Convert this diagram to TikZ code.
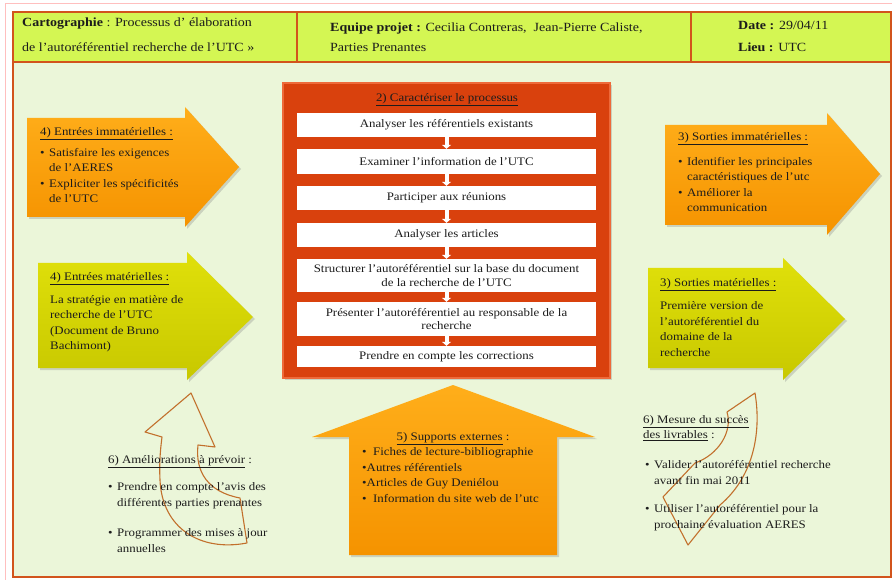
\documentclass[tikz,border=0pt]{standalone}
\usepackage{fontspec}
\setmainfont{Liberation Serif}[FakeStretch=1.12]
\usetikzlibrary{shadows, arrows.meta}
\definecolor{bodybg}{HTML}{EBF6D9}
\definecolor{headbg}{HTML}{D4F653}
\definecolor{framered}{HTML}{D2541C}
\definecolor{procred}{HTML}{D9410D}
\definecolor{procedge}{HTML}{EE6A3A}
\definecolor{orangetop}{HTML}{FFAE1A}
\definecolor{orangebot}{HTML}{F59300}
\definecolor{yellowtop}{HTML}{E0E00A}
\definecolor{yellowbot}{HTML}{C8C800}
\definecolor{curvebrown}{HTML}{C2702C}
\definecolor{inktext}{HTML}{1C1C1C}
\newcommand{\blt}{\makebox[9pt][l]{\textbullet}}
\newcommand{\bodyfont}{\fontsize{11.5}{15.5}\selectfont}
\tikzstyle{orangearrow} = [top color=orangetop, bottom color=orangebot, drop shadow={shadow xshift=2pt, shadow yshift=-2pt, opacity=0.3}]
\tikzstyle{yellowarrow} = [top color=yellowtop, bottom color=yellowbot, drop shadow={shadow xshift=2pt, shadow yshift=-2pt, opacity=0.3}]
\tikzstyle{curvearrow} = [draw=curvebrown, line width=1.1pt, line join=round]
\tikzstyle{headtext} = [anchor=base west, inner sep=0pt, text=inktext]
\tikzstyle{bodytext} = [anchor=base west, inner sep=0pt, text=inktext, font=\bodyfont]
\tikzstyle{stepbox} = [rectangle, fill=white, minimum width=299pt, inner sep=1pt, text centered, align=center, text=inktext, font={\fontsize{11.5}{13.5}\selectfont}]
\tikzstyle{stepflow} = [white, line width=4pt, -{Triangle[width=9pt,length=4pt]}]

\begin{document}
\begin{tikzpicture}[x=1pt, y=-1pt]
            \useasboundingbox (0,0) rectangle (892,580);
            % frame and header
            \draw [red!25, line width=0.8pt] (5,580) |- (892,3);
            \draw [framered, line width=1.2pt, fill=bodybg] (13,12) rectangle (891,577);
            \draw [framered, line width=1.2pt, fill=headbg] (13,12) rectangle (891,62);
            \draw [framered, line width=1.2pt] (297,12) -- (297,62);
            \draw [framered, line width=1.2pt] (691,12) -- (691,62);
            \node [headtext, font={\fontsize{12.5}{25}\selectfont}] at (22,26.5) (maptitle) {\begin{tabular}[t]{@{}l@{}}\textbf{Cartographie} : Processus d’ élaboration\\ de l’autoréférentiel recherche de l’UTC »\end{tabular}};
            \node [headtext, font={\fontsize{12.5}{20}\selectfont}] at (330,32) (team) {\begin{tabular}[t]{@{}l@{}}\textbf{Equipe projet :} Cecilia Contreras,\ \ Jean-Pierre Caliste,\\ Parties Prenantes\end{tabular}};
            \node [headtext, font={\fontsize{12.5}{22}\selectfont}] at (738,30) (dateplace) {\begin{tabular}[t]{@{}l@{}}\textbf{Date :} 29/04/11\\ \textbf{Lieu :} UTC\end{tabular}};

            % input and output arrows
            \path [orangearrow] (27,118) -- (185,118) -- (185,107) -- (239,167) -- (185,227) -- (185,217) -- (27,217) -- cycle;
            \path [yellowarrow] (38,263) -- (187,263) -- (187,252) -- (253,317) -- (187,380) -- (187,368) -- (38,368) -- cycle;
            \path [orangearrow] (665,125) -- (827,125) -- (827,113) -- (880,174) -- (827,235) -- (827,225) -- (665,225) -- cycle;
            \path [yellowarrow] (648,268) -- (783,268) -- (783,258) -- (845,319) -- (783,380) -- (783,368) -- (648,368) -- cycle;
            \path [orangearrow] (349,555) -- (349,437) -- (312,437) -- (453,385) -- (595,437) -- (557,437) -- (557,555) -- cycle;

            \node [bodytext] at (40,135.5) (inimmat) {\underline{4) Entrées immatérielles :}};
            \node [bodytext] at (40,156.5) (inimmatlist) {\begin{tabular}[t]{@{}l@{}l@{}}\blt & Satisfaire les exigences\\ & de l’AERES\\ \blt & Expliciter les spécificités\\ & de l’UTC\end{tabular}};
            \node [bodytext] at (50,280.5) (inmat) {\underline{4) Entrées matérielles :}};
            \node [bodytext] at (50,303.5) (inmatlist) {\begin{tabular}[t]{@{}l@{}}La stratégie en matière de\\ recherche de l’UTC\\ (Document de Bruno\\ Bachimont)\end{tabular}};
            \node [bodytext] at (678,140.5) (outimmat) {\underline{3) Sorties immatérielles :}};
            \node [bodytext] at (678,165.5) (outimmatlist) {\begin{tabular}[t]{@{}l@{}l@{}}\blt & Identifier les principales\\ & caractéristiques de l'utc\\ \blt & Améliorer la\\ & communication\end{tabular}};
            \node [bodytext] at (660,286.5) (outmat) {\underline{3) Sorties matérielles :}};
            \node [bodytext] at (660,309.5) (outmatlist) {\begin{tabular}[t]{@{}l@{}}Première version de\\ l’autoréférentiel du\\ domaine de la\\ recherche\end{tabular}};
            \node [bodytext, anchor=base] at (453,440.5) (support) {\underline{5) Supports externes} :};
            \node [bodytext] at (362,455.5) (supportlist) {\begin{tabular}[t]{@{}l@{}}\textbullet\ \ Fiches de lecture-bibliographie\\ \textbullet Autres référentiels\\ \textbullet Articles de Guy Deniélou\\ \textbullet\ \ Information du site web de l’utc\end{tabular}};

            % process box
            \path [fill=procred, draw=procedge, line width=1.5pt, drop shadow={shadow xshift=2pt, shadow yshift=-2pt, opacity=0.3}] (283,83) rectangle (610,378);
            \node [bodytext, anchor=base] at (447,101.5) (process) {\underline{2) Caractériser le processus}};
            \node [stepbox, minimum height=24pt] at (446.5,125) (s1) {Analyser les référentiels existants};
            \node [stepbox, minimum height=25pt] at (446.5,161.5) (s2) {Examiner l’information de l’UTC};
            \node [stepbox, minimum height=24pt] at (446.5,198) (s3) {Participer aux réunions};
            \node [stepbox, minimum height=24pt] at (446.5,235) (s4) {Analyser les articles};
            \node [stepbox, minimum height=33pt] at (446.5,275.5) (s5) {Structurer l’autoréférentiel sur la base du document\\ de la recherche de l’UTC};
            \node [stepbox, minimum height=34pt] at (446.5,319) (s6) {Présenter l’autoréférentiel au responsable de la\\ recherche};
            \node [stepbox, minimum height=21pt] at (446.5,356.5) (s7) {Prendre en compte les corrections};
            \foreach \a/\b in {s1/s2, s2/s3, s3/s4, s4/s5, s5/s6, s6/s7}
                \draw [stepflow] (\a.south) -- (\b.north);

            % improvement loops
            \draw [curvearrow] (191,393) -- (215,447) -- (198,445) .. controls (195,472) and (208,492) .. (240,498) -- (247,543) .. controls (200,552) and (162,528) .. (160,480) .. controls (159,460) and (161,445) .. (162,437) -- (145,432) -- cycle;
            \draw [curvearrow] (755,393) -- (727,412) .. controls (733,432) and (718,455) .. (695,463) -- (663,497) -- (688,545) -- (720,505) .. controls (752,478) and (762,435) .. cycle;
            \node [bodytext] at (108,463.5) (improve) {\underline{6) Améliorations à prévoir} :};
            \node [bodytext] at (108,490.5) (improvelist) {\begin{tabular}[t]{@{}l@{}l@{}}\blt & Prendre en compte l’avis des\\ & différentes parties prenantes\\[15pt] \blt & Programmer des mises à jour\\ & annuelles\end{tabular}};
            \node [bodytext] at (643,423.5) (measure) {\begin{tabular}[t]{@{}l@{}}\underline{6) Mesure du succès}\\[-0.5pt] \underline{des livrables} :\end{tabular}};
            \node [bodytext] at (645,468.5) (measurelist) {\begin{tabular}[t]{@{}l@{}l@{}}\blt & Valider l’autoréférentiel recherche\\ & avant fin mai 2011\\[13pt] \blt & Utiliser l’autoréférentiel pour la\\ & prochaine évaluation AERES\end{tabular}};
\end{tikzpicture}
\end{document}
